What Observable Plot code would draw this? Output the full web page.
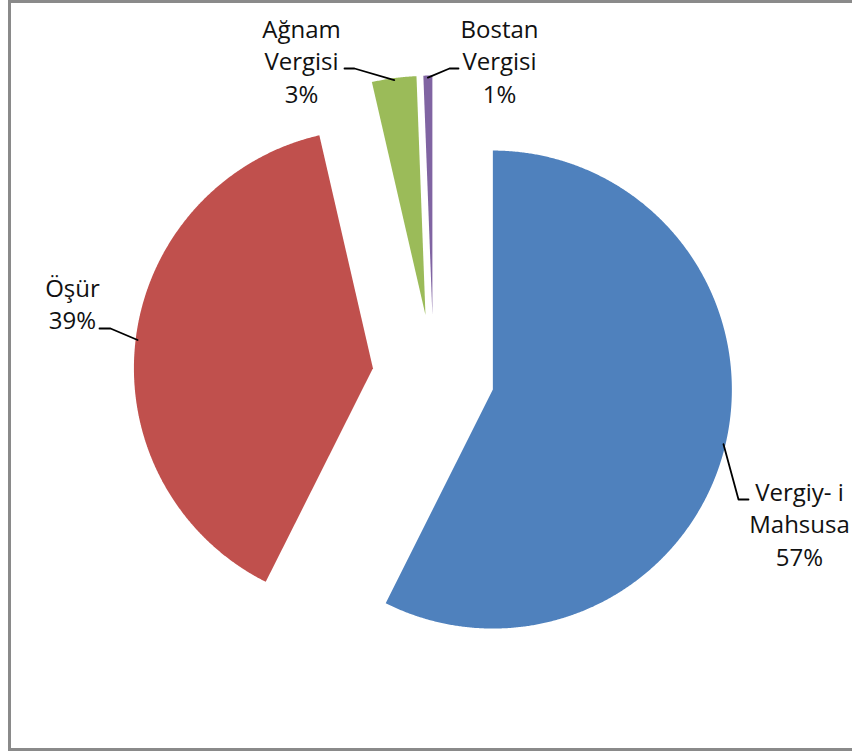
<!DOCTYPE html>
<html><head><meta charset="utf-8">
<script src="https://cdn.jsdelivr.net/npm/d3@7"></script>
<script src="https://cdn.jsdelivr.net/npm/@observablehq/plot@0.6"></script>
<style>
html,body{margin:0;padding:0;background:#fff;}
#wrap{position:relative;width:852px;height:751px;overflow:hidden;}
#frame{position:absolute;left:8px;top:0;width:900px;height:751px;border:3px solid #8a8a8a;box-sizing:border-box;}
#chart{position:absolute;left:0;top:0;}
</style></head><body>
<div id="wrap"><div id="frame"></div><div id="chart"></div></div>
<script>
// ---- data ----
const categories = ["Vergiy- i Mahsusa", "Öşür", "Ağnam Vergisi", "Bostan Vergisi"];
const labelLines = [["Vergiy- i", "Mahsusa"], ["Öşür"], ["Ağnam", "Vergisi"], ["Bostan", "Vergisi"]];
const values = [57.4, 39.0, 3.0, 0.6];
const percentLabels = ["57%", "39%", "3%", "1%"];
const colors = ["#4F81BD", "#C0504D", "#9BBB59", "#8064A2"];

// ---- layout ----
const W = 852, H = 751;
const cx = 433, cy = 375, R = 239, explode = 61;
const lineGap = 32.5;
// label block: centre x, first baseline y; leader end (ex, ey) and elbow x (bx)
const labelLayout = [
  {x: 799, y: 500, ex: 748, ey: 499, bx: 738},
  {x: 72, y: 296, ex: 99, ey: 328, bx: 110},
  {x: 301, y: 37, ex: 344, ey: 68, bx: 354},
  {x: 499, y: 37, ex: 458, ey: 68, bx: 449}
];

const arcs = d3.pie().sort(null).startAngle(0).endAngle(2 * Math.PI)(values);

const slicePts = [];
const leaderPts = [];
const textRows = [];
arcs.forEach((a, i) => {
  const name = categories[i];
  const mid = (a.startAngle + a.endAngle) / 2;
  const ox = cx + explode * Math.sin(mid), oy = cy - explode * Math.cos(mid);
  slicePts.push({name, x: ox, y: oy});
  const n = Math.max(2, Math.ceil((a.endAngle - a.startAngle) / 0.005));
  for (let k = 0; k <= n; k++) {
    const t = a.startAngle + (a.endAngle - a.startAngle) * k / n;
    slicePts.push({name, x: ox + R * Math.sin(t), y: oy - R * Math.cos(t)});
  }
  const L = labelLayout[i];
  const sx = ox + (R - 2) * Math.sin(mid), sy = oy - (R - 2) * Math.cos(mid);
  leaderPts.push({name, x: sx, y: sy}, {name, x: L.bx, y: L.ey}, {name, x: L.ex, y: L.ey});
  const lines = [...labelLines[i], percentLabels[i]];
  lines.forEach((s, j) => textRows.push({text: s, x: L.x, y: L.y + j * lineGap}));
});

const chart = Plot.plot({
  width: W, height: H, margin: 0,
  x: {domain: [0, W], range: [0, W], axis: null},
  y: {domain: [0, H], range: [0, H], axis: null},
  color: {domain: categories, range: colors},
  style: {background: "transparent"},
  marks: [
    Plot.line(slicePts, {x: "x", y: "y", z: "name", fill: "name", stroke: null, strokeWidth: 0, curve: "linear-closed"}),
    Plot.line(leaderPts, {x: "x", y: "y", z: "name", stroke: "#000", strokeWidth: 1.8}),
    Plot.text(textRows, {x: "x", y: "y", text: "text", fontSize: 24, fontFamily: "Open Sans", textAnchor: "middle", lineAnchor: "bottom", fill: "#111"})
  ]
});
document.getElementById("chart").appendChild(chart);
</script>
</body></html>
